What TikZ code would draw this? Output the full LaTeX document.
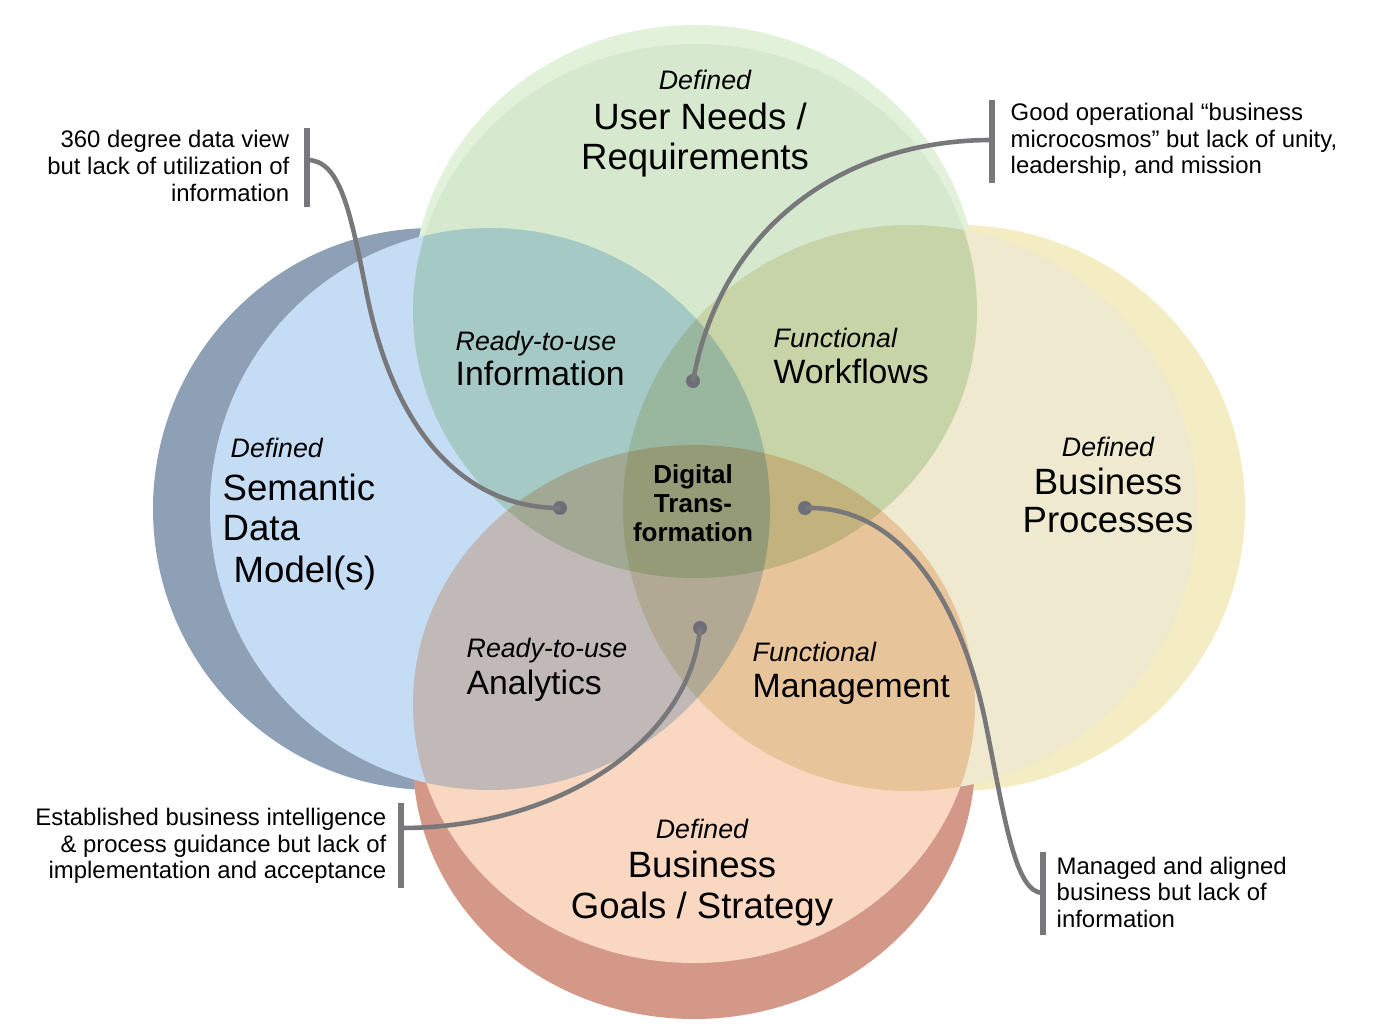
\documentclass[tikz,border=0pt]{standalone}
\usepackage{fontspec}
\setmainfont{Liberation Sans}
\usetikzlibrary{calc}
\definecolor{bluefc}{RGB}{197,220,245}
\definecolor{bluerim}{RGB}{142,160,182}
\definecolor{beigefc}{RGB}{238,233,207}
\definecolor{beigerim}{RGB}{244,237,195}
\definecolor{greenfc}{RGB}{214,233,206}
\definecolor{greenrim}{RGB}{226,241,218}
\definecolor{orangefc}{RGB}{249,215,192}
\definecolor{orangerim}{RGB}{212,152,136}
\definecolor{leadgray}{RGB}{120,120,122}
\definecolor{knobgray}{RGB}{110,110,120}

% face centre / radii / rim centre / colours
\def\discs{490/509/280/281/433/509/bluefc/bluerim,
  910/508/287/283/958/508/beigefc/beigerim,
  695/311/282/267/695/292/greenfc/greenrim,
  694/704/281/259/694/760/orangefc/orangerim}

\begin{document}
\begin{tikzpicture}[
    x=0.01cm, y=-0.01cm,
    disc/.style={blend mode=multiply},
    mainlab/.style={inner sep=0pt, font=\fontsize{10.4}{12}\selectfont},
    zonelab/.style={inner sep=0pt, font=\fontsize{9.6}{11}\selectfont},
    deflab/.style={inner sep=0pt, font=\fontsize{7.6}{9}\selectfont\itshape},
    corelab/.style={inner sep=0pt, align=center, font=\fontsize{7.4}{8.25}\selectfont\bfseries},
    note/.style={inner sep=0pt, font=\fontsize{6.8}{7.55}\selectfont},
    bracket/.style={draw=leadgray, line width=1.5pt},
    lead/.style={draw=leadgray, line width=1.3pt},
    knob/.style={circle, fill=knobgray, minimum size=0.14cm, inner sep=0pt}
  ]
  \fill[white] (0,0) rectangle (1382,1034);
  \useasboundingbox (0,0) rectangle (1382,1034);

  % discs: rims first, then knock out the faces, then multiply the faces
  \foreach \cx/\cy/\rx/\ry/\sx/\sy/\fc/\rc in \discs
    \fill[fill=\rc] (\sx,\sy) ellipse [x radius=\rx, y radius=\ry];
  \foreach \cx/\cy/\rx/\ry/\sx/\sy/\fc/\rc in \discs
    \fill[white] (\cx,\cy) ellipse [x radius=\rx, y radius=\ry];
  \foreach \cx/\cy/\rx/\ry/\sx/\sy/\fc/\rc in \discs
    \fill[disc, fill=\fc] (\cx,\cy) ellipse [x radius=\rx, y radius=\ry];

  % disc titles
  \node[deflab, anchor=base] (defU) at (705,90) {Defined};
  \node[mainlab, anchor=base] (userA) at (700,130) {User Needs /};
  \node[mainlab, anchor=base] (userB) at (695,170) {Requirements};

  \node[deflab, anchor=base west] (defS) at (230,458) {Defined};
  \node[mainlab, anchor=base west] (semA) at (222,501) {Semantic};
  \node[mainlab, anchor=base west] (semB) at (222,541) {Data};
  \node[mainlab, anchor=base west] (semC) at (233,583) {Model(s)};

  \node[deflab, anchor=base] (defP) at (1108,457) {Defined};
  \node[mainlab, anchor=base] (procA) at (1108,495) {Business};
  \node[mainlab, anchor=base] (procB) at (1108,533) {Processes};

  \node[deflab, anchor=base] (defG) at (702,838) {Defined};
  \node[mainlab, anchor=base] (goalA) at (702,877) {Business};
  \node[mainlab, anchor=base] (goalB) at (702,918) {Goals / Strategy};

  % overlap zones
  \node[deflab, anchor=base west] (rtuI) at (455,351) {Ready-to-use};
  \node[zonelab, anchor=base west] (info) at (455,386) {Information};
  \node[deflab, anchor=base west] (funW) at (773,348) {Functional};
  \node[zonelab, anchor=base west] (work) at (773,384) {Workflows};
  \node[deflab, anchor=base west] (rtuA) at (466,658) {Ready-to-use};
  \node[zonelab, anchor=base west] (anal) at (466,694) {Analytics};
  \node[deflab, anchor=base west] (funM) at (752,662) {Functional};
  \node[zonelab, anchor=base west] (mgmt) at (752,698) {Management};
  \node[corelab] (core) at (693,503) {Digital\\Trans-\\formation};

  % side notes
  \node[note, align=right, anchor=east] (noteA) at (290,166) {360 degree data view\\but lack of utilization of\\information};
  \node[note, align=left, anchor=west] (noteB) at (1010,141) {Good operational “business\\microcosmos” but lack of unity,\\leadership, and mission};
  \node[note, align=right, anchor=east] (noteC) at (387,846) {Established business intelligence\\\& process guidance but lack of\\implementation and acceptance};
  \node[note, align=left, anchor=west] (noteD) at (1056,892) {Managed and aligned\\business but lack of\\information};

  \draw[bracket] ($(noteA.east)+(17,-38)$) -- ($(noteA.east)+(17,41)$);
  \draw[bracket] ($(noteB.west)+(-18,-41)$) -- ($(noteB.west)+(-18,42)$);
  \draw[bracket] ($(noteC.east)+(14,-43)$) -- ($(noteC.east)+(14,42)$);
  \draw[bracket] ($(noteD.west)+(-13,-40)$) -- ($(noteD.west)+(-13,43)$);

  \coordinate (jA) at ($(noteA.east)+(17,-6)$);
  \coordinate (jB) at ($(noteB.west)+(-18,-1)$);
  \coordinate (jC) at ($(noteC.east)+(14,-18)$);
  \coordinate (jD) at ($(noteD.west)+(-13,1)$);

  % pointers into the overlaps
  \node[knob] (kA) at (560,508) {};
  \node[knob] (kB) at (693,381) {};
  \node[knob] (kC) at (700,628) {};
  \node[knob] (kD) at (805,508) {};

  \draw[lead] (jA) .. controls (340,160) and (350,210) .. (366,290)
    .. controls (395,440) and (470,508) .. (kA.center);
  \draw[lead] (jB) .. controls (840,140) and (720,230) .. (kB.center);
  \draw[lead] (jC) .. controls (560,828) and (690,740) .. (kC.center);
  \draw[lead] (kD.center) .. controls (900,505) and (960,600) .. (985,720)
    .. controls (1005,820) and (1015,893) .. (jD);
\end{tikzpicture}
\end{document}
